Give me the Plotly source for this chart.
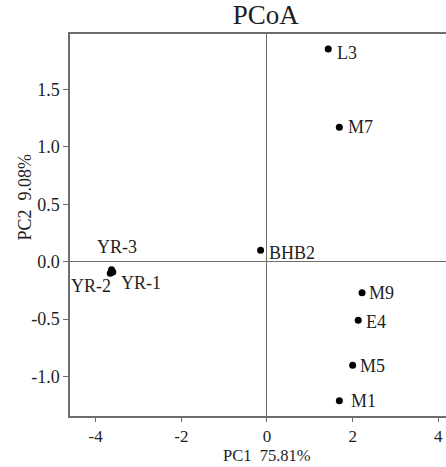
import plotly.graph_objects as go

samples = ["L3", "M7", "BHB2", "YR-3", "YR-2", "YR-1", "M9", "E4", "M5", "M1"]
pc1 = [1.43, 1.69, -0.15, -3.63, -3.66, -3.60, 2.22, 2.13, 2.00, 1.69]
pc2 = [1.85, 1.17, 0.10, -0.07, -0.10, -0.09, -0.27, -0.51, -0.90, -1.21]
x_ticks = [-4, -2, 0, 2, 4]
y_ticks = [-1.0, -0.5, 0.0, 0.5, 1.0, 1.5]
x_title = "PC1  75.81%"
y_title = "PC2  9.08%"

# label placement: (xanchor, xshift px, yshift px) relative to each point
label_pos = {
    "L3": ("left", 7, -4), "M7": ("left", 7, 0), "BHB2": ("left", 6, -3),
    "M9": ("left", 5, 0), "E4": ("left", 6, -2), "M5": ("left", 5, -1),
    "M1": ("left", 10, 0),
    "YR-3": ("center", 5, 23), "YR-2": ("center", -19, -13), "YR-1": ("left", 6, -11),
}

FONT = "Liberation Serif, Times New Roman, serif"
AX = "#6e6e6e"
TXT = "#1e1e1e"

fig = go.Figure()
fig.add_trace(go.Scatter(
    x=pc1, y=pc2, mode="markers",
    marker=dict(color="black", size=7),
    showlegend=False, hoverinfo="text", text=samples,
))
for s, xv, yv in zip(samples, pc1, pc2):
    anc, dx, dy = label_pos[s]
    fig.add_annotation(x=xv, y=yv, text=s, showarrow=False,
                       xanchor=anc, yanchor="middle",
                       xshift=dx, yshift=dy,
                       font=dict(family=FONT, size=18, color=TXT))

# axis titles (x title anchored to the bottom edge of the page)
fig.add_annotation(text=x_title, xref="paper", yref="paper", x=0.524, y=-0.1335,
                   xanchor="center", yanchor="bottom", showarrow=False,
                   font=dict(family=FONT, size=16.5, color=TXT))
fig.add_annotation(text=y_title, xref="paper", yref="paper", x=-0.12, y=0.574,
                   xanchor="center", yanchor="middle", textangle=-90, showarrow=False,
                   font=dict(family=FONT, size=18, color=TXT))

fig.update_layout(
    width=446, height=467,
    margin=dict(l=70, r=0, t=34, b=51),
    paper_bgcolor="white", plot_bgcolor="white",
    title=dict(text="PCoA", x=0.596, xanchor="center", y=0.99, yanchor="top",
               font=dict(family=FONT, size=27, color=TXT)),
    font=dict(family=FONT, size=18, color=TXT),
)
fig.update_xaxes(
    range=[-4.6, 4.18], tickvals=x_ticks, ticktext=[str(v) for v in x_ticks],
    showgrid=False, zeroline=True, zerolinecolor=AX, zerolinewidth=1.3,
    showline=True, linecolor=AX, linewidth=1.5, mirror=True,
    ticks="outside", ticklen=4, tickcolor=AX, tickfont=dict(size=17),
)
fig.update_yaxes(
    range=[-1.342, 1.98], tickvals=y_ticks, ticktext=[f"{v:.1f}" for v in y_ticks],
    showgrid=False, zeroline=True, zerolinecolor=AX, zerolinewidth=1.3,
    showline=True, linecolor=AX, linewidth=1.5, mirror=False,
    ticks="outside", ticklen=5, tickcolor=AX, tickfont=dict(size=18),
)

fig.write_html("out.html", config={"displayModeBar": False},
               post_script="document.body.style.margin='0';document.body.style.overflow='hidden';")
